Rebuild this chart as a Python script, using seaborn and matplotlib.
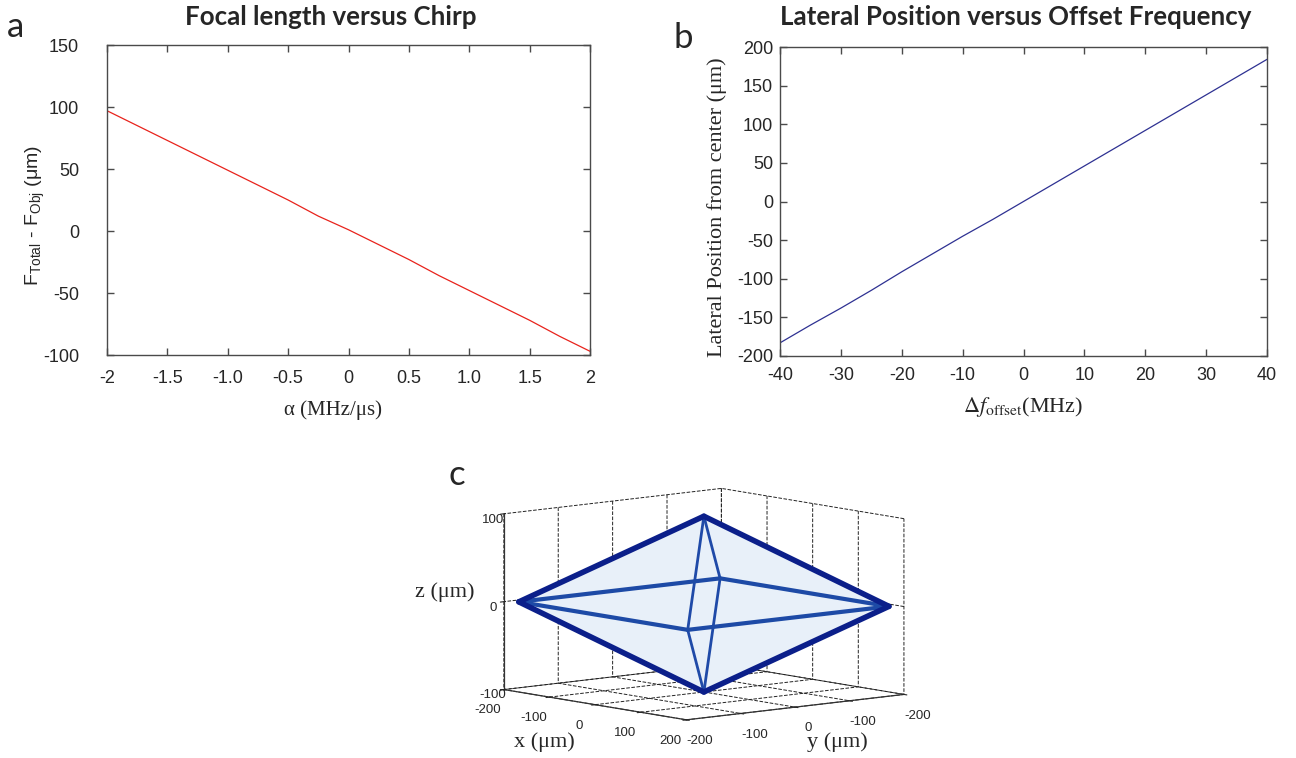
import matplotlib
matplotlib.use("Agg")
import numpy as np
import pandas as pd
import matplotlib.pyplot as plt
import seaborn as sns
from mpl_toolkits.mplot3d.art3d import Poly3DCollection

# Panel a: focal shift vs chirp
chirp = [-2.0, -1.75, -1.5, -1.25, -1.0, -0.75, -0.5, -0.25, 0.0,
         0.25, 0.5, 0.75, 1.0, 1.25, 1.5, 1.75, 2.0]
focal_shift = [97, 85, 73, 61, 49, 37, 25, 12, 1,
               -11, -23, -36, -48, -60, -72, -85, -97]

# Panel b: lateral position vs offset frequency
offset_freq = [-40, -35, -30, -25, -20, -15, -10, -5, 0,
               5, 10, 15, 20, 25, 30, 35, 40]
lateral_pos = [-183, -160, -138, -115, -91, -68, -45, -23, 0,
               23, 46, 69, 92, 115, 138, 161, 184]

# Panel c: octahedron vertices (left, right, front, back, top, bottom)
vert_x = [-185, 185, 185, -185, 0, 0]
vert_y = [-185, 185, -185, 185, 0, 0]
vert_z = [0, 0, 0, 0, 100, -100]
faces = [(4, 0, 2), (4, 2, 1), (4, 1, 3), (4, 3, 0),
         (5, 0, 2), (5, 2, 1), (5, 1, 3), (5, 3, 0)]
outline_edges = [(0, 4), (4, 1), (1, 5), (5, 0)]
equator_edges = [(0, 2), (2, 1), (1, 3), (3, 0)]
spoke_edges = [(4, 2), (4, 3), (5, 2), (5, 3)]

xy_ticks = [-200, -100, 0, 100, 200]
x_ticklabels = ["-200", "-100", "0", "100", "200"]
y_ticklabels = ["-200", "-100", "0", "-100", "-200"]
z_ticks = [-100, 0, 100]

sns.set_style("ticks")
plt.rcParams["font.family"] = ["Liberation Sans", "DejaVu Sans"]
plt.rcParams["axes.unicode_minus"] = False
plt.rcParams["mathtext.fontset"] = "custom"
plt.rcParams["mathtext.rm"] = "Liberation Sans"
plt.rcParams["grid.linestyle"] = "--"
plt.rcParams["grid.color"] = "#222222"
plt.rcParams["grid.linewidth"] = 0.7

W, H = 1296, 758
fig = plt.figure(figsize=(W / 100, H / 100), dpi=100)


def px_rect(x0, y0, x1, y1):
    return [x0 / W, 1 - y1 / H, (x1 - x0) / W, (y1 - y0) / H]


def matlab_box(ax, xpad, ypad):
    for s in ax.spines.values():
        s.set_visible(True)
        s.set_color("#4a4a4a")
        s.set_linewidth(1.0)
    ax.tick_params(direction="in", top=True, right=True, length=5,
                   width=1.0, color="#4a4a4a", labelsize=13)
    ax.tick_params(axis="x", pad=xpad)
    ax.tick_params(axis="y", pad=ypad)


# ---- panel a
ax1 = fig.add_axes(px_rect(107, 45, 590, 355))
df_a = pd.DataFrame({"chirp": chirp, "shift": focal_shift})
sns.lineplot(data=df_a, x="chirp", y="shift", ax=ax1, color="#e8231c", linewidth=0.9)
ax1.set_xlim(-2, 2)
ax1.set_ylim(-100, 150)
ax1.set_xticks([-2, -1.5, -1, -0.5, 0, 0.5, 1, 1.5, 2])
ax1.set_xticklabels(["-2", "-1.5", "-1.0", "-0.5", "0", "0.5", "1.0", "1.5", "2"])
ax1.set_yticks([-100, -50, 0, 50, 100, 150])
matlab_box(ax1, 11, 20)
ax1.set_xlabel("α (MHz/μs)", fontfamily="Liberation Serif", fontsize=15)
ax1.xaxis.set_label_coords(0.468, -0.145)
ax1.set_ylabel(r"F$_{\rm Total}$ - F$_{\rm Obj}$ (μm)", fontsize=14)
ax1.yaxis.set_label_coords(-0.125, 0.45)

# ---- panel b
ax2 = fig.add_axes(px_rect(780, 47, 1267, 356))
df_b = pd.DataFrame({"freq": offset_freq, "pos": lateral_pos})
sns.lineplot(data=df_b, x="freq", y="pos", ax=ax2, color="#2e3192", linewidth=0.9)
ax2.set_xlim(-40, 40)
ax2.set_ylim(-200, 200)
ax2.set_xticks(range(-40, 41, 10))
ax2.set_yticks(range(-200, 201, 50))
matlab_box(ax2, 8, 5)
ax2.set_xlabel(r"$\Delta f_{\rm offset}$(MHz)", fontfamily="Liberation Serif",
               fontsize=16, math_fontfamily="stix")
ax2.xaxis.set_label_coords(0.5, -0.125)
ax2.set_ylabel("Lateral Position from center (μm)", fontfamily="Liberation Serif",
               fontsize=16)
ax2.yaxis.set_label_coords(-0.109, 0.482)

# titles and panel letters
fig.text(331 / W, 1 - 25 / H, "Focal length versus Chirp", ha="center", va="baseline",
         fontfamily="Lato", fontweight="bold", fontsize=18.6)
fig.text(1016 / W, 1 - 25 / H, "Lateral Position versus Offset Frequency", ha="center",
         va="baseline", fontfamily="Lato", fontweight="bold", fontsize=18.6)
for letter, (lx, ly) in {"a": (7, 37), "b": (674, 48), "c": (448, 485)}.items():
    fig.text(lx / W, 1 - ly / H, letter, ha="left", va="baseline",
             fontfamily="Lato", fontsize=25)

# ---- panel c
ax3 = fig.add_axes(px_rect(400, 464, 1000, 752), projection="3d", computed_zorder=False)
ax3.patch.set_alpha(0)
ax3.set_proj_type("ortho")
ax3.view_init(elev=8, azim=-40)
ax3.set_box_aspect((4, 4, 2.5), zoom=1.48)

verts = np.column_stack([vert_x, vert_y, vert_z])
polys = [[verts[i] for i in f] for f in faces]
surf = Poly3DCollection(polys, facecolor="#e8f0f9", edgecolor="#d3e2f2",
                        linewidth=0.3)
surf.set_clip_on(False)
ax3.add_collection3d(surf)
for edges, col, lw in [(spoke_edges, "#1f4aa8", 2.0),
                       (equator_edges, "#1d4aa6", 3.0),
                       (outline_edges, "#0b1f8a", 4.0)]:
    for i, j in edges:
        ax3.plot([vert_x[i], vert_x[j]], [vert_y[i], vert_y[j]], [vert_z[i], vert_z[j]],
                 color=col, linewidth=lw, solid_capstyle="round", clip_on=False)

ax3.set_xlim(-200, 200)
ax3.set_ylim(-200, 200)
ax3.set_zlim(-100, 100)
ax3.set_xticks(xy_ticks)
ax3.set_xticklabels(x_ticklabels)
ax3.set_yticks(xy_ticks)
ax3.set_yticklabels(y_ticklabels)
ax3.set_zticks(z_ticks)
ax3.tick_params(labelsize=9.5, pad=0)
ax3.tick_params(axis="z", pad=-5)
ax3.zaxis.set_ticks_position("lower")
for axis in (ax3.xaxis, ax3.yaxis, ax3.zaxis):
    axis.set_pane_color((1, 1, 1, 0))
    axis.pane.set_edgecolor("#222222")
    axis.pane.set_linestyle("--")
    axis.pane.set_linewidth(0.7)
    axis.line.set_color("#333333")
    axis.line.set_linewidth(0.9)

fig.text(445 / W, 1 - 592 / H, "z (μm)", ha="center", va="center",
         fontfamily="Liberation Serif", fontsize=16)
fig.text(544 / W, 1 - 742 / H, "x (μm)", ha="center", va="center",
         fontfamily="Liberation Serif", fontsize=16)
fig.text(837 / W, 1 - 742 / H, "y (μm)", ha="center", va="center",
         fontfamily="Liberation Serif", fontsize=16)

fig.savefig("out.png", dpi=100)
